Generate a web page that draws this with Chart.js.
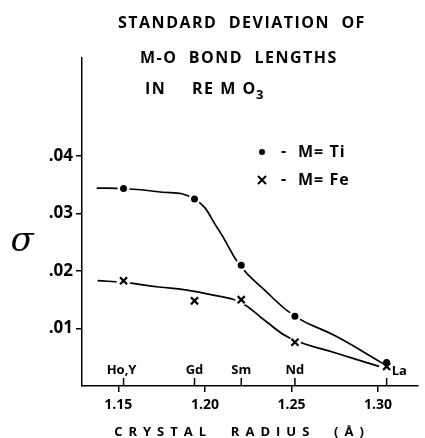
<!DOCTYPE html>
<html>
<head>
<meta charset="utf-8">
<script src="https://cdn.jsdelivr.net/npm/chart.js@4"></script>
<style>
  body { margin: 0; background: #fff; }
</style>
</head>
<body>
<canvas id="chart" width="425" height="438"></canvas>
<script>
// rare earth sites along the x axis
const elements = ['Ho,Y', 'Gd', 'Sm', 'Nd', 'La'];
const elementRadius = [1.153, 1.194, 1.221, 1.252, 1.305];

// measured points
const tiSigma = [0.0343, 0.0325, 0.0210, 0.0121, 0.0041];
const feSigma = [0.0183, 0.0148, 0.0150, 0.0076, 0.0034];

// hand drawn curves
const tiCurveX = [1.1375, 1.1529, 1.1717, 1.1939, 1.2076, 1.2202, 1.2344, 1.2521, 1.2761, 1.3035];
const tiCurveY = [0.0344, 0.0343, 0.0338, 0.0325, 0.0273, 0.0210, 0.0167, 0.0121, 0.0086, 0.0038];
const feCurveX = [1.1380, 1.1529, 1.1734, 1.1888, 1.2048, 1.2202, 1.2350, 1.2493, 1.2761, 1.3006];
const feCurveY = [0.0183, 0.0180, 0.0172, 0.0167, 0.0158, 0.0146, 0.0113, 0.0083, 0.0057, 0.0034];

// axis ticks
const xTicks = [1.15, 1.20, 1.25, 1.30];
const yTicks = [0.01, 0.02, 0.03, 0.04];

const FONT = '"Open Sans", "Liberation Sans", sans-serif';

function pts(xs, ys) {
    return xs.map((x, i) => ({x: x, y: ys[i]}));
}

// title, sigma, legend, element ticks etc.
const decor = {
    id: 'decor',
    afterDraw: function(chart) {
        const ctx = chart.ctx;
        const xs = chart.scales.x;
        const bottom = chart.chartArea.bottom;
        ctx.save();
        ctx.fillStyle = '#000';
        ctx.strokeStyle = '#000';
        ctx.textBaseline = 'middle';

        // title
        ctx.font = 'bold 16px ' + FONT;
        ctx.letterSpacing = '1.5px';
        ctx.textAlign = 'left';
        ctx.fillText('STANDARD  DEVIATION  OF', 118, 23);
        ctx.fillText('M-O  BOND  LENGTHS', 140, 58);
        ctx.fillText('IN', 145, 89);
        ctx.fillText('RE M O', 192, 89);
        ctx.font = 'bold 13px ' + FONT;
        ctx.letterSpacing = '0px';
        ctx.fillText('3', 256, 95);

        // sigma
        ctx.font = 'italic 34px "DejaVu Serif", serif';
        ctx.textAlign = 'center';
        ctx.fillText('σ', 22, 242);

        // legend
        ctx.beginPath();
        ctx.arc(262, 152, 3, 0, Math.PI * 2);
        ctx.fill();
        ctx.lineWidth = 2;
        ctx.beginPath();
        ctx.moveTo(258, 176); ctx.lineTo(266, 184);
        ctx.moveTo(266, 176); ctx.lineTo(258, 184);
        ctx.stroke();
        ctx.font = 'bold 16px ' + FONT;
        ctx.textAlign = 'left';
        ctx.fillText('-', 281, 151);
        ctx.fillText('-', 281, 179);
        ctx.letterSpacing = '1px';
        ctx.fillText('M= Ti', 298, 152);
        ctx.fillText('M= Fe', 298, 180);
        ctx.letterSpacing = '0px';

        // element ticks and labels
        ctx.lineWidth = 1.5;
        ctx.font = 'bold 13px ' + FONT;
        elementRadius.forEach(function(r, i) {
            const px = xs.getPixelForValue(r);
            ctx.beginPath();
            ctx.moveTo(px, bottom);
            ctx.lineTo(px, bottom - 8);
            ctx.stroke();
            if (elements[i] === 'La') {
                ctx.textAlign = 'left';
                ctx.fillText(elements[i], px + 5, 371);
            } else {
                ctx.textAlign = 'center';
                ctx.fillText(elements[i], px - (i === 0 ? 2 : 0), 370);
            }
        });

        // x axis title
        ctx.font = 'bold 13px ' + FONT;
        ctx.letterSpacing = '6px';
        ctx.textAlign = 'center';
        ctx.fillText('CRYSTAL  RADIUS  (Å)', 242, 432);
        ctx.restore();
    }
};

new Chart(document.getElementById('chart'), {
    type: 'scatter',
    data: {
        datasets: [
            {
                label: 'M = Ti',
                data: pts(elementRadius, tiSigma),
                pointStyle: 'circle',
                pointRadius: 3.5,
                pointBackgroundColor: '#000',
                pointBorderColor: '#000',
                pointBorderWidth: 0,
                order: 0
            },
            {
                label: 'M = Fe',
                data: pts(elementRadius, feSigma),
                pointStyle: 'crossRot',
                pointRadius: 5,
                pointBorderColor: '#000',
                pointBorderWidth: 2.2,
                order: 0
            },
            {
                label: 'gap Ti',
                data: pts(elementRadius, tiSigma),
                pointRadius: [6, 6, 6, 6, 0],
                pointBackgroundColor: '#fff',
                pointBorderWidth: 0,
                order: 1
            },
            {
                label: 'gap Fe',
                data: pts(elementRadius, feSigma),
                pointRadius: [7, 6, 6, 6, 0],
                pointBackgroundColor: '#fff',
                pointBorderWidth: 0,
                order: 1
            },
            {
                label: 'Ti curve',
                data: pts(tiCurveX, tiCurveY),
                showLine: true,
                borderColor: '#000',
                borderWidth: 1.7,
                tension: 0.45,
                pointRadius: 0,
                order: 2
            },
            {
                label: 'Fe curve',
                data: pts(feCurveX, feCurveY),
                showLine: true,
                borderColor: '#000',
                borderWidth: 1.7,
                tension: 0.45,
                pointRadius: 0,
                order: 2
            }
        ]
    },
    options: {
        responsive: false,
        animation: false,
        devicePixelRatio: 1,
        layout: { padding: { top: 58, right: 2, left: 0, bottom: 0 } },
        plugins: {
            legend: { display: false },
            tooltip: { enabled: false }
        },
        scales: {
            x: {
                type: 'linear',
                min: 1.129,
                max: 1.323,
                afterBuildTicks: function(s) { s.ticks = xTicks.map(v => ({value: v})); },
                afterFit: function(s) { s.height = 52; },
                grid: { drawOnChartArea: false, drawTicks: true, tickLength: 6, color: '#000', lineWidth: 1.5 },
                border: { display: true, color: '#000', width: 1.5 },
                ticks: {
                    color: '#000',
                    padding: 5,
                    maxRotation: 0,
                    font: { family: FONT, size: 14, weight: 'bold' },
                    callback: v => v.toFixed(2)
                }
            },
            y: {
                min: 0,
                max: 0.057,
                afterBuildTicks: function(s) { s.ticks = yTicks.map(v => ({value: v})); },
                afterFit: function(s) { s.width = 82; },
                grid: { drawOnChartArea: false, drawTicks: true, tickLength: 6, color: '#000', lineWidth: 1.5 },
                border: { display: true, color: '#000', width: 1.5 },
                ticks: {
                    color: '#000',
                    padding: 3,
                    font: { family: FONT, size: 17, weight: 'bold' },
                    callback: v => v.toFixed(2).replace(/^0/, '')
                }
            }
        }
    },
    plugins: [decor]
});
</script>
</body>
</html>
